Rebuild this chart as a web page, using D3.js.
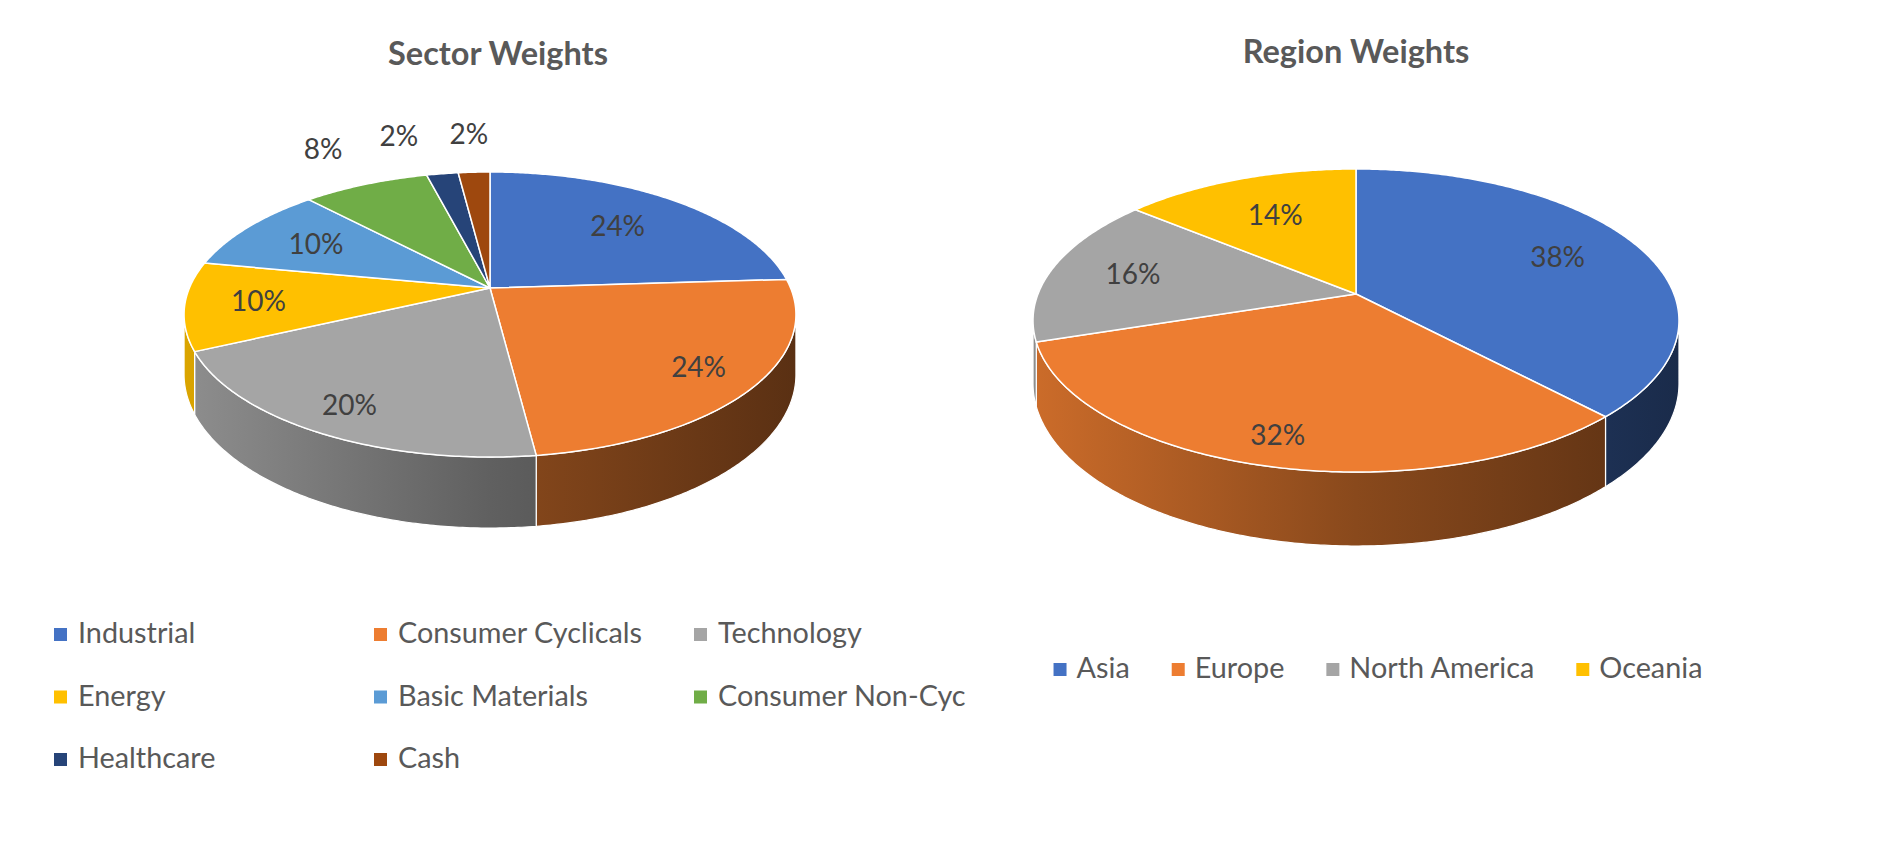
<!DOCTYPE html>
<html>
<head>
<meta charset="utf-8">
<script src="https://cdn.jsdelivr.net/npm/d3@7"></script>
<style>
  body { margin: 0; background: #fff; }
  svg { display: block; font-family: Lato, "Open Sans", sans-serif; }
</style>
</head>
<body>
<svg id="chart" width="1885" height="864"></svg>
<script>
const sectorNames = ["Industrial", "Consumer Cyclicals", "Technology", "Energy",
  "Basic Materials", "Consumer Non-Cyc", "Healthcare", "Cash"];
const sectorValues = [24, 24, 20, 10, 10, 8, 2, 2];
const sectorColors = ["#4472C4", "#ED7D31", "#A5A5A5", "#FFC000",
  "#5B9BD5", "#70AD47", "#264478", "#9E480E"];

const regionNames = ["Asia", "Europe", "North America", "Oceania"];
const regionValues = [38, 32, 16, 14];
const regionColors = ["#4472C4", "#ED7D31", "#A5A5A5", "#FFC000"];

const svg = d3.select("#chart");
const defs = svg.append("defs");

// side walls get lit from the left and fall off to the right
const shade = d3.scaleLinear().domain([0, 0.5, 1]).range([0.86, 0.58, 0.38]);

function darken(c, k) {
  const r = d3.rgb(c);
  return d3.rgb(r.r * k, r.g * k, r.b * k).formatHex();
}

function drawPie(opt) {
  const g = svg.append("g");
  const data = opt.values.map((v, i) => ({ name: opt.names[i], value: v, color: opt.colors[i] }));
  const slices = d3.pie().sort(null).value(d => d.value)(data);

  // tilted disc with a bit of perspective: far edge squashed, near edge stretched
  const proj = (a, f, z) => {
    const X = f * Math.sin(a), Y = f * Math.cos(a), q = 1 + opt.p * Y;
    return [opt.cx + opt.kx * X / q, opt.cy + (-opt.ky * Y + z * opt.depth) / q];
  };
  const line = d3.line();
  const arcPts = (a0, a1, f, z) => {
    const n = Math.max(2, Math.ceil((a1 - a0) / 0.01));
    return d3.range(n + 1).map(i => proj(a0 + (a1 - a0) * i / n, f, z));
  };

  // only the front half of the rim shows
  const aR = Math.acos(-opt.p), aL = 2 * Math.PI - aR;
  const gx0 = opt.cx - opt.kx * 1.02, gx1 = opt.cx + opt.kx * 1.02;

  slices.forEach((s, i) => {
    const w0 = Math.max(s.startAngle, aR), w1 = Math.min(s.endAngle, aL);
    if (w1 <= w0) return;
    const id = opt.id + "-wall-" + i;
    const grad = defs.append("linearGradient").attr("id", id)
      .attr("gradientUnits", "userSpaceOnUse")
      .attr("x1", gx0).attr("x2", gx1).attr("y1", 0).attr("y2", 0);
    [0, 0.5, 1].forEach(t => grad.append("stop").attr("offset", t)
      .attr("stop-color", darken(s.data.color, shade(t))));
    const pts = arcPts(w0, w1, 1, 0).concat(arcPts(w0, w1, 1, 1).reverse());
    g.append("path").attr("d", line(pts) + "Z")
      .attr("fill", `url(#${id})`)
      .attr("stroke", "#fff").attr("stroke-width", 1.2);
  });

  slices.forEach(s => {
    const pts = [proj(0, 0, 0)].concat(arcPts(s.startAngle, s.endAngle, 1, 0));
    g.append("path").attr("d", line(pts) + "Z")
      .attr("fill", s.data.color)
      .attr("stroke", "#fff").attr("stroke-width", 1.5)
      .attr("stroke-linejoin", "round");
  });

  // labels: big slices inside (a bit further out toward the front),
  // small ones outside and pushed apart so they don't collide
  const labels = slices.map(s => {
    const mid = (s.startAngle + s.endAngle) / 2;
    const inside = s.data.value >= 10;
    const f = inside ? 0.75 - 0.1 * Math.cos(mid) : 1.42;
    const [x, y] = proj(mid, f, 0);
    return { x, y, inside, text: s.data.value + "%" };
  });
  const outer = labels.filter(d => !d.inside).sort((a, b) => b.x - a.x);
  outer.forEach((d, i) => { if (i > 0) d.x = Math.min(d.x, outer[i - 1].x - 70); });

  g.selectAll("text.lbl").data(labels).enter().append("text")
    .attr("class", "lbl")
    .attr("x", d => d.x).attr("y", d => d.y).attr("dy", "0.36em")
    .attr("text-anchor", "middle")
    .attr("font-size", 28).attr("fill", "#404040")
    .text(d => d.text);

  svg.append("text")
    .attr("x", opt.titleX).attr("y", opt.titleY)
    .attr("text-anchor", "middle")
    .attr("font-size", 32.5).attr("font-weight", "bold").attr("fill", "#595959")
    .text(opt.title);
}

drawPie({ id: "sector", title: "Sector Weights", names: sectorNames, values: sectorValues,
  colors: sectorColors, cx: 490, cy: 288, kx: 300.6, ky: 137.6, p: 0.186, depth: 57.8,
  titleX: 498, titleY: 65 });

drawPie({ id: "region", title: "Region Weights", names: regionNames, values: regionValues,
  colors: regionColors, cx: 1356, cy: 294, kx: 318, ky: 146.9, p: 0.175, depth: 61,
  titleX: 1356, titleY: 63 });

// sector legend: three columns
const colX = d3.scaleLinear().domain([0, 2]).range([54, 694]);
const rowY = d3.scaleLinear().domain([0, 2]).range([633, 758]);
const sLeg = svg.append("g").selectAll("g").data(sectorNames).enter().append("g")
  .attr("transform", (d, i) => `translate(${colX(i % 3)},${rowY(Math.floor(i / 3))})`);
sLeg.append("rect").attr("x", 0).attr("y", -5).attr("width", 13).attr("height", 13)
  .attr("fill", (d, i) => sectorColors[i]);
sLeg.append("text").attr("x", 24).attr("dy", "0.36em")
  .attr("font-size", 28.8).attr("fill", "#595959").text(d => d);

// region legend: one centred row
const rLegG = svg.append("g");
const rItems = rLegG.selectAll("g").data(regionNames).enter().append("g");
rItems.append("rect").attr("x", 0).attr("y", -5).attr("width", 13).attr("height", 13)
  .attr("fill", (d, i) => regionColors[i]);
rItems.append("text").attr("x", 23).attr("dy", "0.36em")
  .attr("font-size", 28.8).attr("fill", "#595959").text(d => d);
let cursor = 0;
rItems.each(function () {
  const w = d3.select(this).select("text").node().getComputedTextLength();
  d3.select(this).attr("transform", `translate(${cursor},0)`);
  cursor += 23 + w + 42;
});
const rWidth = cursor - 42;
rLegG.attr("transform", `translate(${1378 - rWidth / 2},668)`);
</script>
</body>
</html>
